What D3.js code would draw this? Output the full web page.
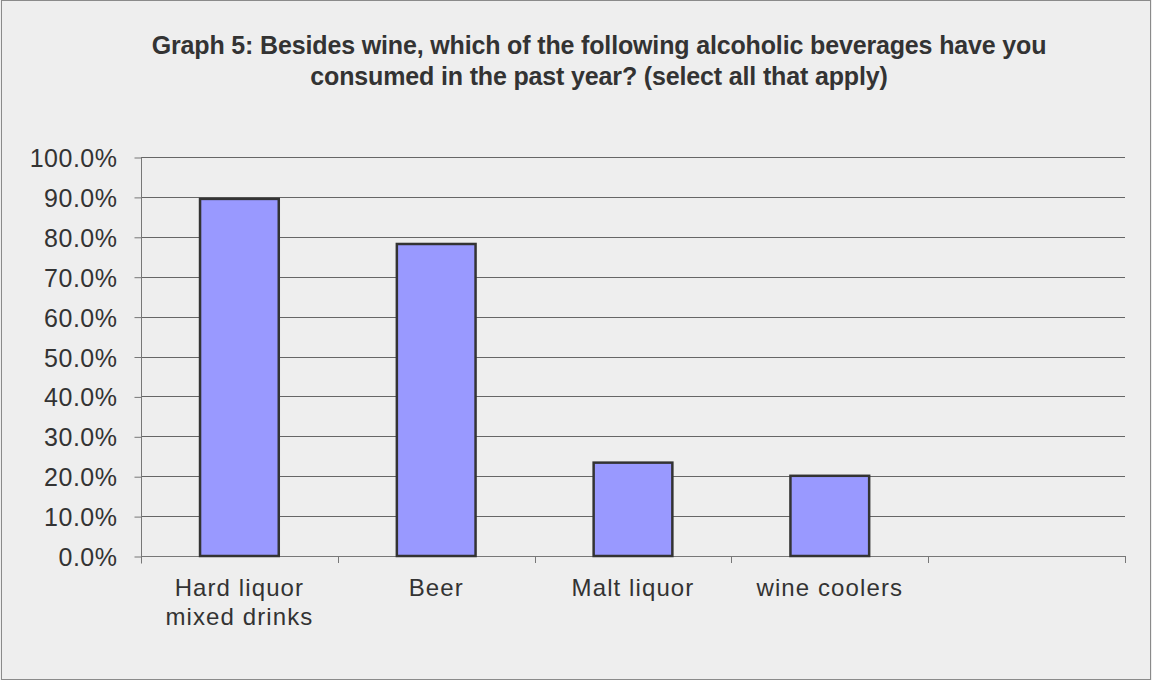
<!DOCTYPE html>
<html>
<head>
<meta charset="utf-8">
<script src="https://cdn.jsdelivr.net/npm/d3@7"></script>
<style>
  html, body { margin: 0; padding: 0; background: #eeeeee; }
  svg { display: block; }
  text { font-family: "Liberation Sans", Arial, sans-serif; fill: #333; }
</style>
</head>
<body>
<svg id="chart" width="1152" height="680"></svg>
<script>
const titleLines = [
  "Graph 5: Besides wine, which of the following alcoholic beverages have you",
  "consumed in the past year? (select all that apply)"
];
const categories = ["Hard liquor\nmixed drinks", "Beer", "Malt liquor", "wine coolers", ""];
const values = [89.5, 78.2, 23.4, 20.1, null];
const yTicks = [0, 10, 20, 30, 40, 50, 60, 70, 80, 90, 100];

const W = 1152, H = 680;
const margin = { left: 141, right: 27, top: 157, bottom: 124 };
const svg = d3.select("#chart");

svg.append("rect").attr("x", 1.5).attr("y", 0.5).attr("width", W - 3).attr("height", H - 1)
  .attr("fill", "#eeeeee").attr("stroke", "#8a8a8a").attr("stroke-width", 1);

const x = d3.scaleBand().domain(categories.map((c, i) => i))
  .range([margin.left, W - margin.right]).paddingInner(0.6).paddingOuter(0.3);
const y = d3.scaleLinear().domain([0, 100]).range([H - margin.bottom, margin.top]);

// title
const title = svg.append("g");
titleLines.forEach((t, i) => {
  title.append("text").attr("x", 599).attr("y", 54 + i * 31)
    .attr("text-anchor", "middle").attr("font-size", 25).attr("font-weight", "bold")
    .attr("letter-spacing", -0.15)
    .text(t);
});

// gridlines
svg.append("g").selectAll("line").data(yTicks.filter(d => d > 0)).join("line")
  .attr("x1", margin.left).attr("x2", W - margin.right)
  .attr("y1", d => Math.round(y(d)) + 0.5).attr("y2", d => Math.round(y(d)) + 0.5)
  .attr("stroke", "#666").attr("stroke-width", 1);

// y axis
const yAxis = d3.axisLeft(y).tickValues(yTicks).tickSize(7).tickPadding(17)
  .tickFormat(d => d.toFixed(1) + "%");
const gy = svg.append("g").attr("transform", `translate(${margin.left + 0.5},0.5)`).call(yAxis);
gy.select(".domain").attr("stroke", "#777").attr("d", `M0,${y(100)}V${y(0) + 7}`);
gy.selectAll(".tick line").attr("stroke", "#777");
gy.selectAll(".tick text").attr("font-size", 25).attr("fill", "#333").attr("letter-spacing", 0.5)
  .attr("font-family", "'Liberation Sans', Arial, sans-serif").attr("dy", "0.36em");

// x axis (boundary ticks)
const step = x.step();
const boundaries = d3.range(categories.length + 1).map(i => margin.left + i * step);
const gx = svg.append("g");
gx.append("line").attr("x1", margin.left).attr("x2", W - margin.right)
  .attr("y1", Math.round(y(0)) + 0.5).attr("y2", Math.round(y(0)) + 0.5).attr("stroke", "#777");
gx.selectAll("line.tk").data(boundaries.slice(1)).join("line").attr("class", "tk")
  .attr("x1", d => Math.round(d) + 0.5).attr("x2", d => Math.round(d) + 0.5)
  .attr("y1", Math.round(y(0))).attr("y2", Math.round(y(0)) + 7).attr("stroke", "#777");

// bars
svg.append("g").selectAll("rect").data(values.map((v, i) => ({ v, i })).filter(d => d.v != null))
  .join("rect")
  .attr("x", d => x(d.i)).attr("width", x.bandwidth())
  .attr("y", d => y(d.v)).attr("height", d => y(0) - y(d.v))
  .attr("fill", "#9999ff").attr("stroke", "#333").attr("stroke-width", 2.5);

// category labels
const lab = svg.append("g");
categories.forEach((c, i) => {
  if (!c) return;
  const t = lab.append("text").attr("text-anchor", "middle").attr("font-size", 24)
    .attr("letter-spacing", 1.1)
    .attr("x", x(i) + x.bandwidth() / 2).attr("y", 596);
  c.split("\n").forEach((ln, j) => {
    t.append("tspan").attr("x", x(i) + x.bandwidth() / 2).attr("dy", j === 0 ? 0 : 29).text(ln);
  });
});
</script>
</body>
</html>
